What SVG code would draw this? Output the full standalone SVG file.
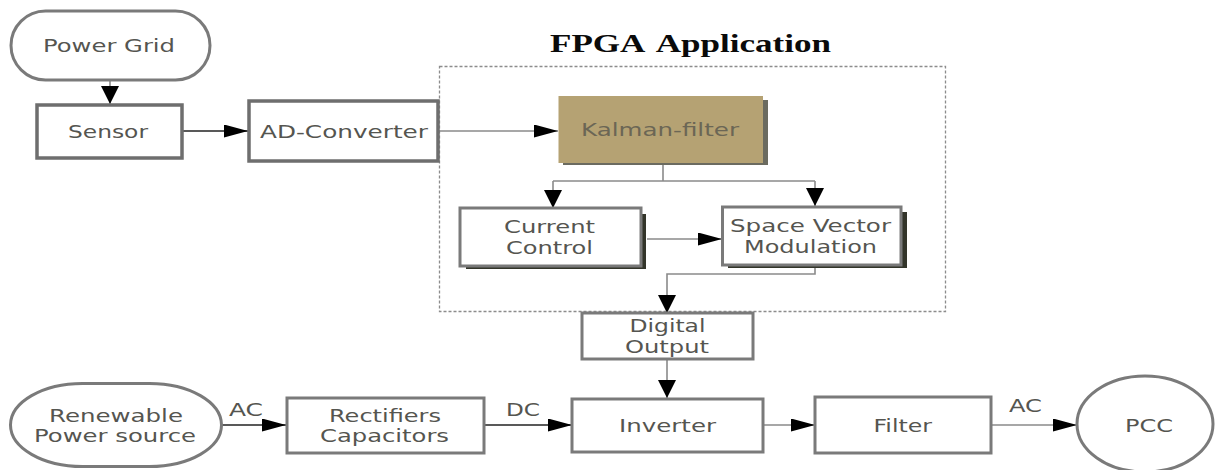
<svg xmlns="http://www.w3.org/2000/svg" width="1220" height="470" viewBox="0 0 1220 470">
<style>
text{font-family:"DejaVu Sans","Liberation Sans",sans-serif;font-size:18px;fill:#555550}
.title{font-family:"Liberation Serif",serif;font-weight:bold;font-size:25.500px;word-spacing:4px;fill:#0a0a0a}
.box{fill:#fff;stroke:#7a7a7a;stroke-width:3}
.thick{stroke:#6e6e6e;stroke-width:3.500}
.c{fill:none;stroke:#222;stroke-width:1.300}
.g{fill:none;stroke:#8a8a8a;stroke-width:1.600}
.sd{fill:#33352a;stroke:none}
</style>
<defs>
<marker id="h" markerUnits="userSpaceOnUse" markerWidth="24" markerHeight="13" refX="24" refY="6.500" orient="auto"><path d="M0 0L24 6.500L0 13Z" fill="#000"/></marker>
<marker id="v" markerUnits="userSpaceOnUse" markerWidth="18" markerHeight="18" refX="18" refY="9" orient="auto"><path d="M0 0L18 9L0 18Z" fill="#000"/></marker>
</defs>
<rect width="1220" height="470" fill="#fff"/>
<text class="title" x="550" y="52" textLength="281" lengthAdjust="spacingAndGlyphs">FPGA Application</text>
<rect id="fpga-boundary" x="439.500" y="66.500" width="506" height="245" fill="none" stroke="#8c8c8c" stroke-width="1.300" stroke-dasharray="3 2"/>
<g id="connectors">
<path class="g" d="M110 80V104" marker-end="url(#v)"/>
<path class="c" d="M183 131H248" marker-end="url(#h)"/>
<path class="g" d="M438 131H558" marker-end="url(#h)"/>
<path class="g" d="M663 165V181M553 181H815"/>
<path class="g" d="M553 181V208" marker-end="url(#v)"/>
<path class="g" d="M815 181V206" marker-end="url(#v)"/>
<path class="g" d="M647 239H722" marker-end="url(#h)"/>
<path class="g" d="M815 268V274H667V313" marker-end="url(#v)"/>
<path class="g" d="M667 360V398" marker-end="url(#v)"/>
<path class="c" d="M221 425H286" marker-end="url(#h)"/>
<path class="c" d="M484 425H572" marker-end="url(#h)"/>
<path class="g" d="M763 425H815" marker-end="url(#h)"/>
<path class="g" d="M991 425H1077" marker-end="url(#h)"/>
</g>
<g id="power-grid"><rect class="box" x="11" y="11" width="199" height="69" rx="34.500"/><text x="43" y="52" textLength="132" lengthAdjust="spacingAndGlyphs">Power Grid</text></g>
<g id="sensor"><rect class="box thick" x="37" y="105" width="145" height="53"/><text x="68" y="138" textLength="80" lengthAdjust="spacingAndGlyphs">Sensor</text></g>
<g id="ad-converter"><rect class="box thick" x="249" y="101" width="189" height="60"/><text x="260" y="138" textLength="168" lengthAdjust="spacingAndGlyphs">AD-Converter</text></g>
<g id="kalman-filter"><rect class="sd" x="563" y="100" width="205" height="65" style="fill:#6b6b60"/><rect x="558.500" y="96" width="204.500" height="67" fill="#b5a273"/><text x="581" y="136" textLength="158" lengthAdjust="spacingAndGlyphs" style="fill:#6b6655">Kalman-filter</text></g>
<g id="current-control"><rect class="sd" x="466" y="214" width="180" height="55"/><rect class="box" x="460" y="208" width="181" height="58"/><text x="504" y="233" textLength="91" lengthAdjust="spacingAndGlyphs">Current</text><text x="506" y="254" textLength="87" lengthAdjust="spacingAndGlyphs">Control</text></g>
<g id="space-vector-modulation"><rect class="sd" x="728" y="212" width="179" height="56"/><rect class="box" x="722.500" y="207" width="178.500" height="58"/><text x="730" y="232" textLength="161" lengthAdjust="spacingAndGlyphs">Space Vector</text><text x="744" y="253" textLength="133" lengthAdjust="spacingAndGlyphs">Modulation</text></g>
<g id="digital-output"><rect class="box" x="582" y="313" width="171" height="46"/><text x="629.500" y="332" textLength="76" lengthAdjust="spacingAndGlyphs">Digital</text><text x="625" y="353" textLength="84" lengthAdjust="spacingAndGlyphs">Output</text></g>
<g id="renewable-power-source"><rect class="box" x="10.500" y="383.500" width="211" height="83" rx="72" ry="41.500"/><text x="49" y="422" textLength="134" lengthAdjust="spacingAndGlyphs">Renewable</text><text x="34" y="442" textLength="162" lengthAdjust="spacingAndGlyphs">Power source</text></g>
<g id="rectifiers-capacitors"><rect class="box" x="287" y="398" width="197" height="55"/><text x="329" y="422" textLength="112" lengthAdjust="spacingAndGlyphs">Rectifiers</text><text x="320" y="442" textLength="129" lengthAdjust="spacingAndGlyphs">Capacitors</text></g>
<g id="inverter"><rect class="box" x="572" y="399" width="191" height="53"/><text x="619" y="432" textLength="97" lengthAdjust="spacingAndGlyphs">Inverter</text></g>
<g id="filter"><rect class="box" x="815" y="397" width="176" height="56"/><text x="873.500" y="432" textLength="58.500" lengthAdjust="spacingAndGlyphs">Filter</text></g>
<g id="pcc"><ellipse class="box" cx="1145" cy="424" rx="68" ry="48"/><text x="1125" y="432" textLength="48" lengthAdjust="spacingAndGlyphs">PCC</text></g>
<text x="229" y="416" textLength="34" lengthAdjust="spacingAndGlyphs">AC</text>
<text x="506" y="416" textLength="34" lengthAdjust="spacingAndGlyphs">DC</text>
<text x="1009" y="412" textLength="33" lengthAdjust="spacingAndGlyphs">AC</text>
</svg>
